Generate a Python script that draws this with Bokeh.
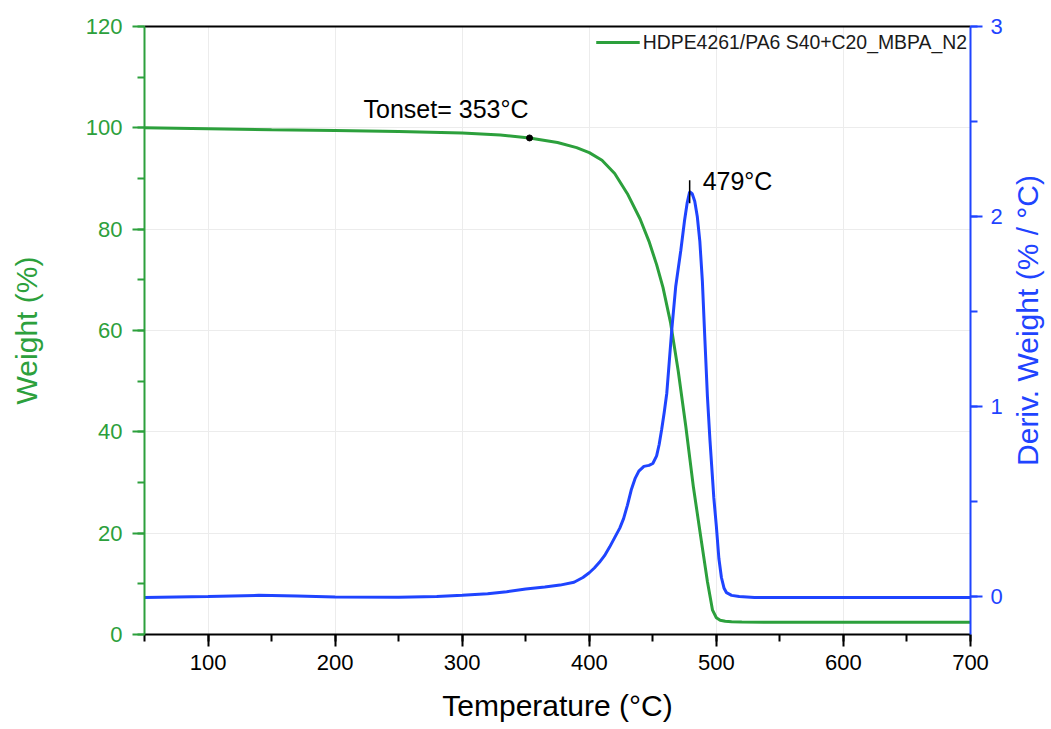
import math
from bokeh.plotting import figure
from bokeh.models import (LinearAxis, Range1d, SingleIntervalTicker, FixedTicker,
                          Legend, LegendItem, Label)
from bokeh.core.properties import value
from bokeh.embed import file_html
from bokeh.resources import INLINE

# ---------------- data ----------------
series_name = "HDPE4261/PA6 S40+C20_MBPA_N2"

temp_w = [50, 100, 150, 200, 250, 300, 330, 353, 375, 390, 400, 410, 420, 430,
          440, 447, 453, 458, 464, 470, 476, 482, 488, 493, 497, 500, 503, 507,
          512, 520, 550, 600, 650, 700]
weight = [100.0, 99.8, 99.6, 99.45, 99.3, 99.0, 98.6, 98.0, 97.1, 96.1, 95.1,
          93.6, 91.0, 87.0, 82.0, 77.6, 73.0, 68.5, 61.5, 52.0, 41.0, 29.0,
          18.8, 10.4, 4.8, 3.3, 2.8, 2.6, 2.5, 2.45, 2.4, 2.4, 2.4, 2.4]

temp_d = [50, 100, 140, 170, 200, 250, 280, 300, 320, 335, 350, 365, 377, 388,
          395, 400, 404, 408, 412, 416, 420, 424, 427, 430, 433, 436, 439, 443,
          447, 450, 453, 455, 457, 459, 461, 463, 465, 468, 472, 475, 477, 479,
          481, 483, 485, 487, 489, 491, 493, 495, 498, 500, 502, 504, 506, 508,
          512, 518, 530, 600, 650, 700]
deriv = [-0.005, 0.0, 0.006, 0.002, -0.003, -0.004, 0.0, 0.006, 0.015, 0.025,
         0.04, 0.05, 0.06, 0.075, 0.1, 0.125, 0.15, 0.18, 0.215, 0.26, 0.31,
         0.36, 0.41, 0.48, 0.56, 0.62, 0.66, 0.685, 0.69, 0.70, 0.74, 0.8, 0.88,
         0.97, 1.07, 1.24, 1.41, 1.63, 1.82, 1.98, 2.07, 2.13, 2.12, 2.08, 2.0,
         1.87, 1.66, 1.35, 1.05, 0.82, 0.52, 0.37, 0.2, 0.1, 0.045, 0.02, 0.006,
         0.0, -0.005, -0.005, -0.005, -0.005]

onset_T = [353]
onset_W = [98.0]
onset_label = ["Tonset= 353°C"]

peak_T = [479]
peak_D = [2.13]
peak_label = ["479°C"]

x_min, x_max = 50, 700
y_min, y_max = 0, 120
y2_min, y2_max = -0.2, 3

x_label = "Temperature (°C)"
y_label = "Weight (%)"
y2_label = "Deriv. Weight (% / °C)"

# ---------------- style ----------------
GREEN = "#2ca03c"
BLUE = "#1f44ff"
FONT = "Liberation Sans"
GRID = "#ececec"

p = figure(width=1051, height=728, x_range=(x_min, x_max), y_range=(y_min, y_max),
           output_backend="svg", toolbar_location=None,
           min_border_left=144, min_border_right=81,
           min_border_top=26, min_border_bottom=94)
p.outline_line_color = None
p.background_fill_color = "white"
p.extra_y_ranges = {"deriv": Range1d(y2_min, y2_max)}

# grids
xt = SingleIntervalTicker(interval=100, num_minor_ticks=2)
yt = SingleIntervalTicker(interval=20, num_minor_ticks=2)
p.xgrid.ticker = xt
p.ygrid.ticker = yt
for g in (p.xgrid, p.ygrid):
    g.grid_line_color = GRID
    g.grid_line_width = 1

def style_axis(ax, color, label_color):
    ax.axis_line_color = color
    ax.axis_line_width = 2
    ax.major_tick_line_color = color
    ax.minor_tick_line_color = color
    ax.major_tick_line_width = 2
    ax.minor_tick_line_width = 2
    ax.major_tick_out = 12
    ax.major_tick_in = 0
    ax.minor_tick_out = 7
    ax.minor_tick_in = 0
    ax.major_label_text_color = label_color
    ax.major_label_text_font = FONT
    ax.major_label_text_font_size = "22px"
    ax.axis_label_text_color = label_color
    ax.axis_label_text_font = FONT
    ax.axis_label_text_font_size = "30px"
    ax.axis_label_text_font_style = "normal"

xa = p.xaxis[0]
xa.ticker = xt
xa.axis_label = x_label
style_axis(xa, "black", "black")
xa.major_label_standoff = 8
xa.axis_label_standoff = 16

ya = p.yaxis[0]
ya.ticker = yt
ya.axis_label = y_label
style_axis(ya, GREEN, GREEN)
ya.major_label_standoff = 10
ya.axis_label_standoff = 40

ra = LinearAxis(y_range_name="deriv",
                ticker=SingleIntervalTicker(interval=1, num_minor_ticks=2))
style_axis(ra, BLUE, BLUE)
ra.major_label_standoff = 8
p.add_layout(ra, "right")

# right axis title in its own side panel, reading bottom-to-top
rlabel = Label(x=22, y=314, x_units="screen", y_units="screen",
               angle=math.pi / 2, text=y2_label,
               text_align="center", text_baseline="middle",
               text_font=FONT, text_font_size="30px", text_color=BLUE)
p.add_layout(rlabel, "right")

ta = LinearAxis(ticker=FixedTicker(ticks=[], minor_ticks=[]))
ta.axis_line_color = "black"
ta.axis_line_width = 2
ta.major_tick_out = 0
ta.minor_tick_out = 0
ta.major_label_standoff = 0
p.add_layout(ta, "above")

# curves
gl = p.line(temp_w, weight, line_color=GREEN, line_width=3)
bl = p.line(temp_d, deriv, line_color=BLUE, line_width=3, y_range_name="deriv")

# annotations
p.scatter(onset_T, onset_W, size=6, color="black")
p.text(x=onset_T, y=onset_W, text=onset_label, x_offset=-166, y_offset=-29,
       text_align="left", text_baseline="alphabetic",
       text_font=value(FONT), text_font_size="25px", text_color="black")

p.scatter(peak_T, peak_D, marker="dash", angle=math.pi / 2, size=23,
          line_color="black", line_width=1.5, y_range_name="deriv")
p.text(x=peak_T, y=peak_D, text=peak_label, x_offset=13, y_offset=-11,
       text_align="left", text_baseline="alphabetic", y_range_name="deriv",
       text_font=value(FONT), text_font_size="25px", text_color="black")

legend = Legend(items=[LegendItem(label=series_name, renderers=[gl])],
                location="top_right")
legend.margin = 3
legend.padding = 20
legend.label_height = 26
legend.glyph_height = 26
legend.border_line_color = None
legend.background_fill_alpha = 0
legend.glyph_width = 44
legend.label_standoff = 3
legend.label_text_font = FONT
legend.label_text_font_size = "19.4px"
legend.label_text_color = "#1a1a1a"
p.add_layout(legend)

open("out.html", "w").write(file_html(p, INLINE))
